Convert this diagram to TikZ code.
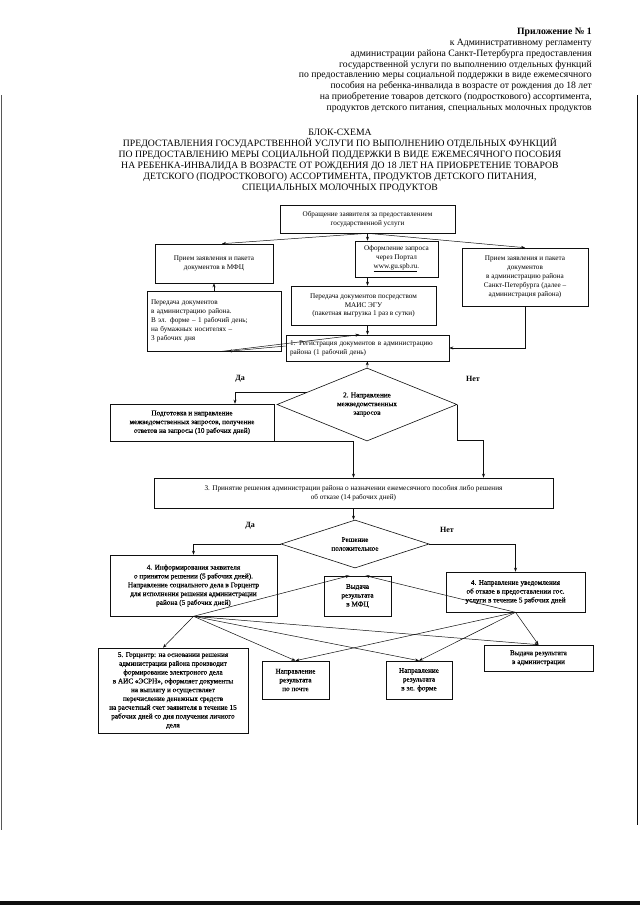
\documentclass[tikz,border=0pt]{standalone}
\usepackage{fontspec}
\setmainfont{Liberation Serif}
\newfontfamily\darkfont[FakeBold=0.6]{Liberation Serif}
\usetikzlibrary{positioning, calc, shapes.geometric, arrows.meta}
\definecolor{Ink}{RGB}{15,15,15}
\newcommand{\blkfont}{\fontsize{7.2}{8.8}\selectfont}

\begin{document}
\begin{tikzpicture}[x=1pt, y=-1pt,
    box/.style={draw=Ink, line width=0.6pt, align=center, inner sep=1pt, font=\blkfont},
    darkbox/.style={box, font={\darkfont\blkfont}},
    dia/.style={draw=Ink, line width=0.6pt, diamond, align=center, inner sep=0pt, font={\darkfont\blkfont}},
    arr/.style={draw=Ink, line width=0.5pt, -{Stealth[length=4pt, width=3pt]}},
    lbl/.style={font=\bfseries\fontsize{8}{9}\selectfont, inner sep=0pt}]
        % Page frame of the scan
        \useasboundingbox (0,0) rectangle (640,905);
        \fill[white] (0,0) rectangle (640,905);
        \draw[Ink, line width=0.8pt] (637,95) -- (637,825);
        \draw[Ink!70, line width=0.5pt] (1,95) -- (1,830);
        \fill[Ink] (0,901) rectangle (640,905);

        % Appendix header
        \node[anchor=north east, align=right, inner sep=0pt, font=\fontsize{9.7}{10.8}\selectfont] (hdr) at (592,28) {
            \textbf{Приложение № 1}\\
            к Административному регламенту\\
            администрации района Санкт-Петербурга предоставления\\
            государственной услуги по выполнению отдельных функций\\
            по предоставлению меры социальной поддержки в виде ежемесячного\\
            пособия на ребенка-инвалида  в возрасте  от рождения до 18 лет\\
            на приобретение товаров  детского  (подросткового) ассортимента,\\
            продуктов детского  питания, специальных молочных продуктов
        };

        % Title
        \node[anchor=north, align=center, inner sep=0pt, font=\fontsize{9.7}{10.9}\selectfont] (title) at (340,129) {
            БЛОК-СХЕМА\\
            ПРЕДОСТАВЛЕНИЯ ГОСУДАРСТВЕННОЙ УСЛУГИ ПО ВЫПОЛНЕНИЮ ОТДЕЛЬНЫХ ФУНКЦИЙ\\
            ПО ПРЕДОСТАВЛЕНИЮ МЕРЫ СОЦИАЛЬНОЙ ПОДДЕРЖКИ В ВИДЕ ЕЖЕМЕСЯЧНОГО ПОСОБИЯ\\
            НА РЕБЕНКА-ИНВАЛИДА В ВОЗРАСТЕ  ОТ РОЖДЕНИЯ ДО 18 ЛЕТ  НА ПРИОБРЕТЕНИЕ ТОВАРОВ\\
            ДЕТСКОГО  (ПОДРОСТКОВОГО) АССОРТИМЕНТА, ПРОДУКТОВ ДЕТСКОГО ПИТАНИЯ,\\
            СПЕЦИАЛЬНЫХ МОЛОЧНЫХ ПРОДУКТОВ
        };

        % Intake
        \node[box, minimum width=175, minimum height=28] (start) at (367.5,219) {Обращение заявителя за предоставлением\\государственной услуги};
        \node[box, minimum width=118, minimum height=39] (mfc) at (214,263.5) {Прием заявления и пакета\\документов в МФЦ};
        \node[box, minimum width=83, minimum height=36] (portal) at (396.5,259) {Оформление запроса\\через Портал\\\underline{www.gu.spb.ru}.};
        \node[box, minimum width=126, minimum height=58] (rb) at (525,277) {Прием заявления и пакета\\документов\\в администрацию района\\Санкт-Петербурга (далее –\\администрация района)};
        \node[box, minimum width=134, minimum height=60, text width=126, align=left] (trans) at (214,321) {Передача документов\\в администрацию района.\\В эл. форме – 1  рабочий день;\\на бумажных носителях –\\3 рабочих дня};
        \node[box, minimum width=145, minimum height=39] (mais) at (363.5,305.5) {Передача документов посредством\\МАИС ЭГУ\\(пакетная выгрузка 1 раз в сутки)};
        \node[box, minimum width=163, minimum height=26, text width=155, align=left] (reg) at (367.5,348) {1. Регистрация документов в администрацию\\района (1 рабочий день)};

        % Interagency requests
        \node[dia, aspect=2.5, minimum width=180, minimum height=73] (q1) at (367,404.5) {2. Направление\\межведомственных\\запросов};
        \node[darkbox, minimum width=164, minimum height=37] (prep) at (192,422.5) {Подготовка и направление\\межведомственных запросов, получение\\ответов на запросы (10 рабочих дней)};
        \node[lbl] (yes1) at (240,379) {Да};
        \node[lbl] (no1) at (473,379) {Нет};

        % Decision
        \node[box, minimum width=399, minimum height=30] (dec) at (353.5,493) {3. Принятие решения администрации района о назначении ежемесячного пособия либо решения\\об отказе (14 рабочих дней)};
        \node[dia, aspect=3, minimum width=148, minimum height=48] (q2) at (355,544) {Решение\\положительное};
        \node[lbl] (yes2) at (250,526) {Да};
        \node[lbl] (no2) at (447,530) {Нет};

        % Outcomes
        \node[darkbox, minimum width=167, minimum height=61] (inf) at (193.5,585.5) {4. Информирования заявителя\\о принятом решении (5 рабочих дней).\\Направление социального дела в Горцентр\\для исполнения решения администрации\\района (5 рабочих дней)};
        \node[darkbox, minimum width=67, minimum height=40] (mfcout) at (357.5,596) {Выдача\\результата\\в МФЦ};
        \node[darkbox, minimum width=139, minimum height=40] (ref) at (515.5,592) {4. Направление уведомления\\об отказе в предоставлении гос.\\услуги в течение 5 рабочих дней};
        \node[darkbox, minimum width=150, minimum height=85] (gor) at (173,690.5) {5. Горцентр: на основании решения\\администрации района производит\\формирование электроного дела\\в АИС «ЭСРН», оформляет документы\\на выплату и осуществляет\\перечисление денежных средств\\на расчетный счет заявителя в течение 15\\рабочих дней со дня получения личного\\дела};
        \node[darkbox, minimum width=67, minimum height=38] (post) at (295.5,680) {Направление\\результата\\по почте};
        \node[darkbox, minimum width=66, minimum height=38] (email) at (419,680) {Направление\\результата\\в эл. форме};
        \node[darkbox, minimum width=109, minimum height=26] (admout) at (538.5,658) {Выдача результата\\в администрации};

        % Intake connectors
        \draw[arr] (start.south) -- ([xshift=8]mfc.north);
        \draw[arr] (start.south) -- (portal.north -| start.south);
        \draw[arr] (start.south) -- (rb.north);
        \draw[arr] (portal.south -| start.south) -- (mais.north -| start.south);
        \draw[arr] (mais.south -| start.south) -- (reg.north -| start.south);
        \draw[arr] (trans.north) -- (mfc.south);
        \draw[arr] ([xshift=8]trans.south) -- ([xshift=-8]reg.north);
        \draw[arr] ([yshift=2]reg.west) -- ([xshift=14]trans.south);
        \draw[arr] (rb.south) |- (reg.east);
        \draw[arr] (q1.north) -- (reg.south);

        % Branches of the request diamond
        \coordinate (y1) at ($(q1.west)!0.34!(q1.north)$);
        \draw[arr] (y1) -| ([xshift=43]prep.north);
        \draw[arr] (q1.east) -- ++(0,36) -| ([xshift=130]dec.north);
        \draw[arr] (prep.south east) -| (dec.north);
        \draw[arr] (dec.south) -- (dec.south |- q2.north);

        % Branches of the decision diamond
        \draw[arr] (q2.west) -| (inf.north);
        \draw[arr] (q2.east) -| (ref.north);

        % Delivery of the result
        \draw[arr] (inf.south) -- ([xshift=-8]mfcout.north);
        \draw[arr] (inf.south) -- ([xshift=-10]gor.north);
        \draw[arr] (inf.south) -- (post.north);
        \draw[arr] (inf.south) -- (email.north);
        \draw[arr] (inf.south) -- (admout.north);
        \draw[arr] (ref.south) -- ([xshift=8]mfcout.north);
        \draw[arr] (ref.south) -- (post.north);
        \draw[arr] (ref.south) -- (email.north);
        \draw[arr] (ref.south) -- (admout.north);
    \end{tikzpicture}
\end{document}
